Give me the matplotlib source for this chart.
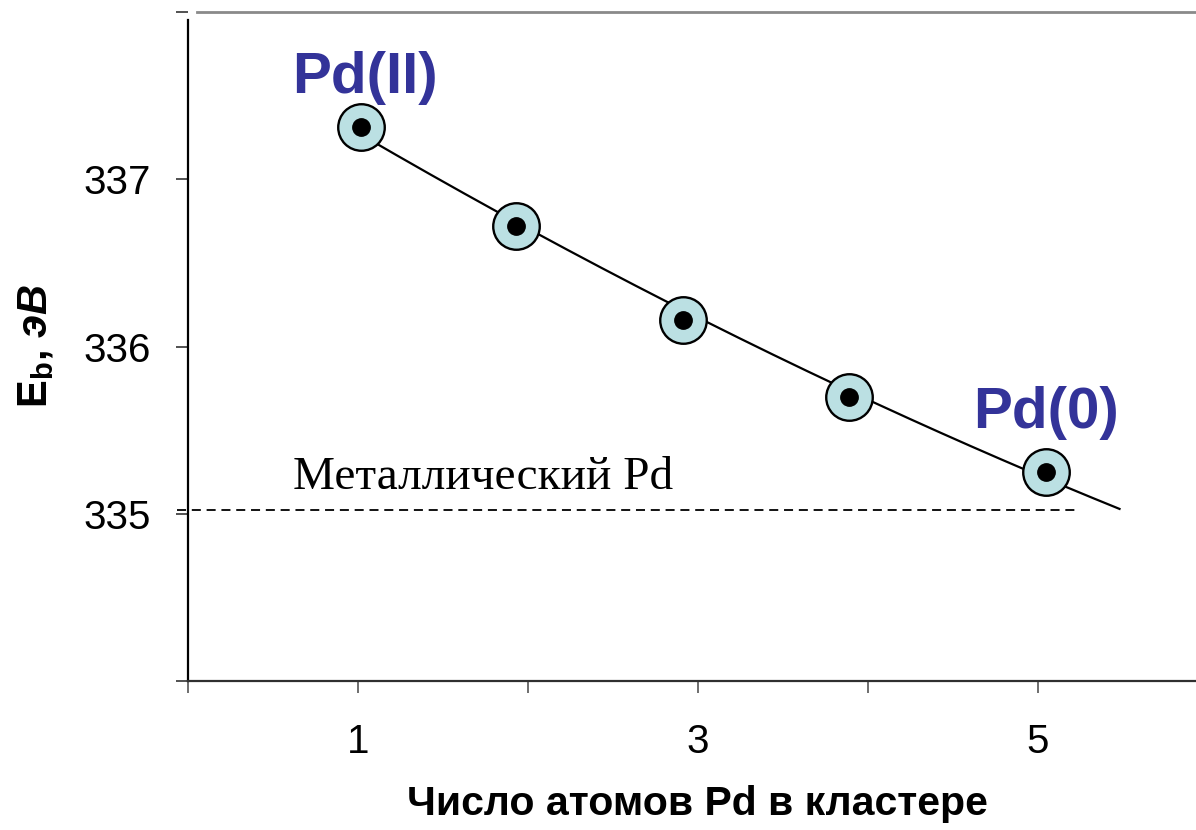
import numpy as np
import matplotlib
matplotlib.use("Agg")
import matplotlib.pyplot as plt

plt.rcParams['font.family'] = ['Liberation Sans', 'DejaVu Sans']
plt.rcParams['mathtext.fontset'] = 'custom'
plt.rcParams['mathtext.rm'] = 'Liberation Sans'
plt.rcParams['mathtext.bf'] = 'Liberation Sans:bold'
plt.rcParams['mathtext.it'] = 'Liberation Sans:italic:bold'

# binding energy vs. number of Pd atoms in the cluster
n_atoms = [1.02, 1.93, 2.91, 3.89, 5.05]
eb = [337.31, 336.72, 336.16, 335.70, 335.25]

# smoothed trend curve through the series
trend_x = [1.12, 1.47, 1.94, 2.91, 3.89, 5.05, 5.48]
trend_y = [337.20, 337.01, 336.74, 336.22, 335.73, 335.21, 335.03]

metal_eb = 335.02
metal_label = 'Металлический Pd'

x_ticks = [0, 1, 2, 3, 4, 5]
x_ticklabels = ['', '1', '', '3', '', '5']
y_ticks = [334, 335, 336, 337, 338]
y_ticklabels = ['', '335', '336', '337', '']

W, H = 1196, 830
fig = plt.figure(figsize=(W / 100, H / 100), dpi=100)
ax = fig.add_axes([188 / W, 1 - 681 / H, 1 - 188 / W, (681 - 12) / H])

ax.set_xlim(0, 5.93)
ax.set_ylim(334, 338)

coef = np.polyfit(trend_x, trend_y, 2)
xs = np.linspace(n_atoms[0], trend_x[-1], 200)
ax.plot(xs, np.polyval(coef, xs), color='black', lw=1.6, zorder=2)

ax.plot(n_atoms, eb, ls='none', marker='o', ms=33.5, mfc='#BBE0E3',
        mec='black', mew=1.7, zorder=3)
ax.plot(n_atoms, eb, ls='none', marker='o', ms=12.5, mfc='black',
        mec='black', zorder=4)

ax.plot([-0.065, 5.25], [metal_eb, metal_eb], ls=(0, (5, 3.2)),
        color='black', lw=1.3, clip_on=False, zorder=1)
ax.text(0.62, metal_eb + 0.13, metal_label, family='Liberation Serif',
        fontsize=34, ha='left', va='baseline')

ax.annotate('Pd(II)', (n_atoms[0], eb[0]), xytext=(4, 34),
            textcoords='offset pixels', ha='center', va='baseline',
            fontsize=42, fontweight='bold', color='#333399')
ax.annotate('Pd(0)', (n_atoms[-1], eb[-1]), xytext=(0, 44),
            textcoords='offset pixels', ha='center', va='baseline',
            fontsize=42, fontweight='bold', color='#333399')

ax.set_xticks(x_ticks)
ax.set_xticklabels(x_ticklabels)
ax.set_yticks(y_ticks)
ax.set_yticklabels(y_ticklabels)
ax.tick_params(axis='x', direction='out', length=8.5, width=1.2,
               color='#555555', labelsize=29, pad=22)
ax.tick_params(axis='y', direction='out', length=8.5, width=1.2,
               color='#333333', labelsize=29, pad=18)

ax.spines['right'].set_visible(False)
ax.spines['left'].set_linewidth(1.6)
ax.spines['left'].set_bounds(334, 337.95)
ax.spines['bottom'].set_linewidth(1.6)
ax.spines['bottom'].set_color('#303030')
ax.spines['top'].set_color('#8a8a8a')
ax.spines['top'].set_linewidth(2.0)
ax.spines['top'].set_bounds(0.053, 5.93)

ax.set_xlabel('Число атомов Pd в кластере', fontsize=29.5, fontweight='bold',
              labelpad=17)
ax.xaxis.label.set_x(0.505)
ax.set_ylabel(r'$\mathbf{E}_\mathbf{b}$, $\mathit{эВ}$', fontsize=30,
              fontweight='bold', labelpad=20)

fig.savefig('out.png', dpi=100)
